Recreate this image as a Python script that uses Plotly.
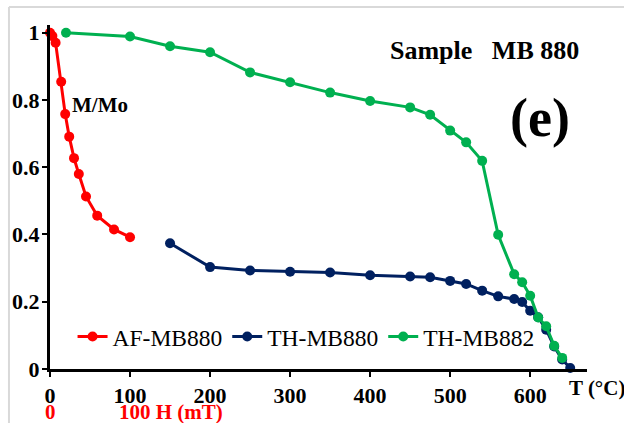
import plotly.graph_objects as go

# AF demagnetisation (field in mT, plotted on the shared x axis)
af_field = [0, 3, 7, 14, 19, 24, 30, 36, 45, 59, 80, 100]
af_mmo = [1.0, 0.99, 0.97, 0.854, 0.758, 0.691, 0.627, 0.58, 0.513, 0.456, 0.415, 0.392]

# Thermal demagnetisation, sample MB880
th880_t = [150, 200, 250, 300, 350, 400, 450, 475, 500, 520, 540, 560, 580, 590,
           600, 610, 620, 630, 640, 650]
th880_mmo = [0.374, 0.303, 0.293, 0.289, 0.287, 0.279, 0.275, 0.273, 0.262, 0.253,
             0.233, 0.216, 0.208, 0.199, 0.173, 0.154, 0.117, 0.067, 0.028, 0.003]

# Thermal demagnetisation, sample MB882
th882_t = [20, 100, 150, 200, 250, 300, 350, 400, 450, 475, 500, 520, 540, 560, 580,
           590, 600, 610, 620, 630, 640]
th882_mmo = [1.0, 0.989, 0.96, 0.942, 0.882, 0.853, 0.822, 0.797, 0.778, 0.756, 0.709,
             0.674, 0.619, 0.399, 0.282, 0.258, 0.218, 0.153, 0.127, 0.069, 0.033]

x_ticks = [0, 100, 200, 300, 400, 500, 600]
y_ticks = [0, 0.2, 0.4, 0.6, 0.8, 1]
y_ticktext = ["0", "0.2", "0.4", "0.6", "0.8", "1"]

SERIF = "Liberation Serif, Times New Roman, serif"

fig = go.Figure()
fig.add_trace(go.Scatter(x=af_field, y=af_mmo, name="AF-MB880", mode="lines+markers",
                         line=dict(color="#ff0000", width=3),
                         marker=dict(color="#ff0000", size=10), cliponaxis=False))
fig.add_trace(go.Scatter(x=th880_t, y=th880_mmo, name="TH-MB880", mode="lines+markers",
                         line=dict(color="#002060", width=3),
                         marker=dict(color="#002060", size=10), cliponaxis=False))
fig.add_trace(go.Scatter(x=th882_t, y=th882_mmo, name="TH-MB882", mode="lines+markers",
                         line=dict(color="#00b050", width=3),
                         marker=dict(color="#00b050", size=10), cliponaxis=False))

fig.update_layout(
    width=624, height=423,
    margin=dict(l=50, r=37, t=25, b=54),
    paper_bgcolor="white", plot_bgcolor="white",
    font=dict(family=SERIF, color="black"),
    showlegend=True,
    legend=dict(orientation="h", x=0.042, y=0.094, xanchor="left", yanchor="middle",
                bgcolor="rgba(0,0,0,0)", font=dict(family=SERIF, size=23.5, color="black"),
                itemwidth=30),
    xaxis=dict(range=[0, 671], tickvals=x_ticks, showgrid=False, zeroline=False,
               showline=True, linecolor="black", linewidth=3,
               ticks="outside", ticklen=5, tickwidth=2, tickcolor="black",
               tickfont=dict(family=SERIF, size=22, color="black", weight="bold")),
    yaxis=dict(range=[0, 1.023], tickvals=y_ticks, ticktext=y_ticktext, showgrid=False,
               zeroline=False, showline=True, linecolor="black", linewidth=3,
               ticks="outside", ticklen=5, tickwidth=2, tickcolor="black",
               ticklabelstandoff=-2,
               tickfont=dict(family=SERIF, size=22, color="black", weight="bold")),
)

annotations = [
    dict(x=25, y=0.785, xref="x", yref="y", text="<b>M/Mo</b>", xanchor="left",
         yanchor="middle", font=dict(family=SERIF, size=21, color="black")),
    dict(x=422, y=0.946, xref="x", yref="y", text="<b>Sample&nbsp;&nbsp;&nbsp;MB 880</b>",
         xanchor="left", yanchor="middle", font=dict(family=SERIF, size=26, color="black")),
    dict(x=612, y=0.745, xref="x", yref="y", text="<b>(e)</b>", xanchor="center",
         yanchor="middle", font=dict(family=SERIF, size=54, color="black")),
    dict(x=646, y=-0.054, xref="x", yref="paper", text="<b>T (°C)</b>", xanchor="left",
         yanchor="middle", font=dict(family=SERIF, size=21, color="black")),
    dict(x=0, y=-0.125, xref="x", yref="paper", text="<b>0</b>", xanchor="center",
         yanchor="middle", font=dict(family=SERIF, size=21, color="#ff0000")),
    dict(x=84, y=-0.125, xref="x", yref="paper", text="<b>100 H (mT)</b>", xanchor="left",
         yanchor="middle", font=dict(family=SERIF, size=21, color="#ff0000")),
]
for a in annotations:
    a["showarrow"] = False
fig.update_layout(annotations=annotations)

# light frame around the figure (top and left edges)
fig.add_shape(type="line", xref="paper", yref="paper", x0=-0.0764, x1=1.07,
              y0=1.0523, y1=1.0523, line=dict(color="#d9d9d9", width=2))
fig.add_shape(type="line", xref="paper", yref="paper", x0=-0.0764, x1=-0.0764,
              y0=1.0523, y1=-0.16, line=dict(color="#d9d9d9", width=2))

fig.write_html("out.html")
